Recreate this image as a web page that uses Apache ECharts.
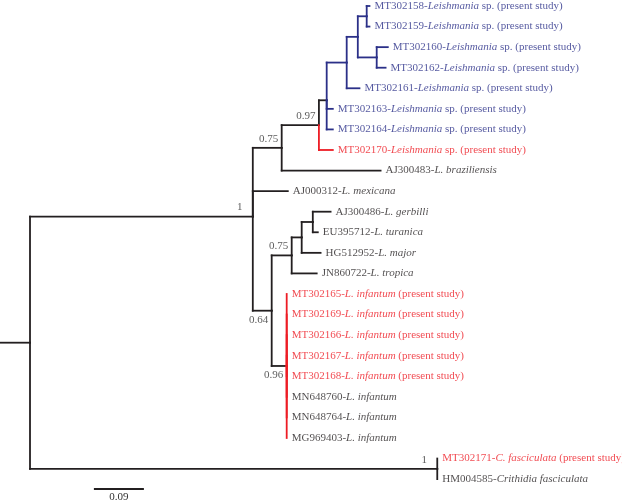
<!DOCTYPE html>
<html><head><meta charset="utf-8">
<script src="https://cdn.jsdelivr.net/npm/echarts@6/dist/echarts.min.js"></script>
<style>html,body{margin:0;padding:0;background:#fff}#c{width:622px;height:502px}</style>
</head><body><div id="c"></div>
<script>
// ---- DATA ----
// leaves, top to bottom
const leafIds = ['MT302158','MT302159','MT302160','MT302162','MT302161','MT302163','MT302164','MT302170',
  'AJ300483','AJ000312','AJ300486','EU395712','HG512952','JN860722',
  'MT302165','MT302169','MT302166','MT302167','MT302168','MN648760','MN648764','MG969403',
  'MT302171','HM004585'];
const leafTaxa = ['Leishmania','Leishmania','Leishmania','Leishmania','Leishmania','Leishmania','Leishmania','Leishmania',
  'L. braziliensis','L. mexicana','L. gerbilli','L. turanica','L. major','L. tropica',
  'L. infantum','L. infantum','L. infantum','L. infantum','L. infantum','L. infantum','L. infantum','L. infantum',
  'C. fasciculata','Crithidia fasciculata'];
const leafNotes = [' sp. (present study)',' sp. (present study)',' sp. (present study)',' sp. (present study)',
  ' sp. (present study)',' sp. (present study)',' sp. (present study)',' sp. (present study)',
  '','','','','','',
  ' (present study)',' (present study)',' (present study)',' (present study)',' (present study)','','','',
  ' (present study)',''];
// label group: 'clade' = new Leishmania sp. clade, 'study' = present study, 'ref' = reference sequence
const leafGroup = ['clade','clade','clade','clade','clade','clade','clade','study',
  'ref','ref','ref','ref','ref','ref',
  'study','study','study','study','study','ref','ref','ref',
  'study','ref'];

// tree: [node, parent, branch length (subst./site), posterior support]
const treeNodes = [
  ['root', null, 0, null],
  ['B', 'root', 0.401, '1'],
  ['C', 'B', 0.052, '0.75'],
  ['G', 'C', 0.067, '0.97'],
  ['E', 'G', 0.014, null],
  ['F', 'E', 0.036, null],
  ['J', 'F', 0.020, null],
  ['H', 'J', 0.016, null],
  ['MT302158', 'H', 0.005, null],
  ['MT302159', 'H', 0.005, null],
  ['I', 'J', 0.034, null],
  ['MT302160', 'I', 0.020, null],
  ['MT302162', 'I', 0.016, null],
  ['MT302161', 'F', 0.023, null],
  ['MT302163', 'E', 0.011, null],
  ['MT302164', 'E', 0.011, null],
  ['MT302170', 'G', 0.025, null],
  ['AJ300483', 'C', 0.178, null],
  ['AJ000312', 'B', 0.063, null],
  ['D', 'B', 0.034, '0.64'],
  ['K', 'D', 0.036, '0.75'],
  ['M', 'K', 0.018, null],
  ['N', 'M', 0.020, null],
  ['AJ300486', 'N', 0.032, null],
  ['EU395712', 'N', 0.009, null],
  ['HG512952', 'M', 0.034, null],
  ['JN860722', 'K', 0.045, null],
  ['L', 'D', 0.027, '0.96'],
  ['MT302165', 'L', 0, null],
  ['MT302169', 'L', 0, null],
  ['MT302166', 'L', 0, null],
  ['MT302167', 'L', 0, null],
  ['MT302168', 'L', 0, null],
  ['MN648760', 'L', 0, null],
  ['MN648764', 'L', 0, null],
  ['MG969403', 'L', 0, null],
  ['O', 'root', 0.733, '1'],
  ['MT302171', 'O', 0, null],
  ['HM004585', 'O', 0, null]
];
const cladeBranches = ['F','J','H','I','MT302158','MT302159','MT302160','MT302162','MT302161','MT302163','MT302164'];
const studyBranches = ['MT302170','MT302165','MT302169','MT302166','MT302167','MT302168','MN648760','MN648764','MG969403'];
const supportBelow = ['D','L'];
const scaleBarLength = 0.09;
const scaleBarLabel = '0.09';

// ---- STYLE ----
const COLORS = { ref: '#231f20', clade: '#2b3088', study: '#ed1c24' };
const FONT = '"Liberation Serif","DejaVu Serif",serif';
const X_MIN = -0.054, X_MAX = 1.0655;
const ROW = 20.57, TOP = 6;
const SCALE_X = 0.115, SCALE_Y = 23.48;
const LW = 1.8;

// ---- LAYOUT (tree coordinates) ----
const nodeMap = {};
treeNodes.forEach(([id, parent, len, sup]) => { nodeMap[id] = { id, parent, len, sup, children: [] }; });
treeNodes.forEach(([id, parent]) => { if (parent) nodeMap[parent].children.push(id); });
function place(id, x) {
  const n = nodeMap[id];
  n.x = x + n.len;
  if (n.children.length === 0) { n.y = leafIds.indexOf(id); }
  else {
    n.children.forEach(c => place(c, n.x));
    n.y = n.children.reduce((s, c) => s + nodeMap[c].y, 0) / n.children.length;
  }
}
place('root', 0);
function branchGroup(id) {
  if (cladeBranches.includes(id)) return 'clade';
  if (studyBranches.includes(id)) return 'study';
  return 'ref';
}
const segs = [];
const rootN = nodeMap['root'];
segs.push([X_MIN, rootN.y, rootN.x, rootN.y, 'ref']);
treeNodes.forEach(([id, parent]) => {
  if (!parent) return;
  const n = nodeMap[id], p = nodeMap[parent], g = branchGroup(id);
  if (Math.abs(n.y - p.y) > 1e-9) segs.push([p.x, p.y, p.x, n.y, g]);
  if (n.x - p.x > 1e-9) segs.push([p.x, n.y, n.x, n.y, g]);
});

const leafData = leafIds.map((id, i) => ({ value: [nodeMap[id].x, nodeMap[id].y] }));
const supData = treeNodes.filter(r => r[3] !== null).map(r => {
  const n = nodeMap[r[0]];
  const below = supportBelow.includes(r[0]);
  return {
    value: [n.x, n.y], name: r[3],
    label: { position: below ? [-13, 9] : [-13, -9] }
  };
});

const rich = {};
Object.keys(COLORS).forEach(k => {
  rich[k] = { color: COLORS[k], fontFamily: FONT, fontSize: 11 };
  rich[k + 'i'] = { color: COLORS[k], fontFamily: FONT, fontSize: 11, fontStyle: 'italic' };
});

const chart = echarts.init(document.getElementById('c'), null, { renderer: 'canvas' });
chart.setOption({
  backgroundColor: '#ffffff',
  animation: false,
  grid: { left: 0, right: 0, top: TOP, height: ROW * 24 },
  xAxis: { type: 'value', min: X_MIN, max: X_MAX, show: false },
  yAxis: { type: 'value', min: 0, max: 24, inverse: true, show: false },
  series: [
    {
      type: 'custom', clip: false, silent: true,
      data: segs,
      encode: { x: [0, 2], y: [1, 3] },
      renderItem: (params, api) => {
        const s = segs[params.dataIndex];
        const a = api.coord([s[0], s[1]]), b = api.coord([s[2], s[3]]);
        return { type: 'line', shape: { x1: a[0], y1: a[1], x2: b[0], y2: b[1] },
          style: { stroke: COLORS[s[4]], lineWidth: LW, lineCap: 'square' } };
      }
    },
    {
      type: 'scatter', symbolSize: 0, silent: true, data: leafData,
      label: {
        show: true, position: 'right', distance: 5,
        formatter: p => {
          const i = p.dataIndex, g = leafGroup[i];
          let s = '{' + g + '|' + leafIds[i] + '-}{' + g + 'i|' + leafTaxa[i] + '}';
          if (leafNotes[i]) s += '{' + g + '|' + leafNotes[i] + '}';
          return s;
        },
        rich
      }
    },
    {
      type: 'scatter', symbolSize: 0, silent: true, data: supData,
      label: {
        show: true, formatter: p => p.name, align: 'center', verticalAlign: 'middle',
        fontFamily: FONT, fontSize: 11, color: '#333333'
      }
    },
    {
      type: 'custom', clip: false, silent: true,
      data: [[SCALE_X, SCALE_Y, SCALE_X + scaleBarLength, SCALE_Y]],
      renderItem: (params, api) => {
        const a = api.coord([api.value(0), api.value(1)]), b = api.coord([api.value(2), api.value(3)]);
        return { type: 'group', children: [
          { type: 'line', shape: { x1: a[0], y1: a[1], x2: b[0], y2: b[1] }, style: { stroke: '#231f20', lineWidth: LW } },
          { type: 'text', x: (a[0] + b[0]) / 2, y: a[1] + 3,
            style: { text: scaleBarLabel, align: 'center', verticalAlign: 'top', font: '11px ' + FONT, fill: '#333333' } }
        ] };
      }
    }
  ]
});
</script>
</body></html>
